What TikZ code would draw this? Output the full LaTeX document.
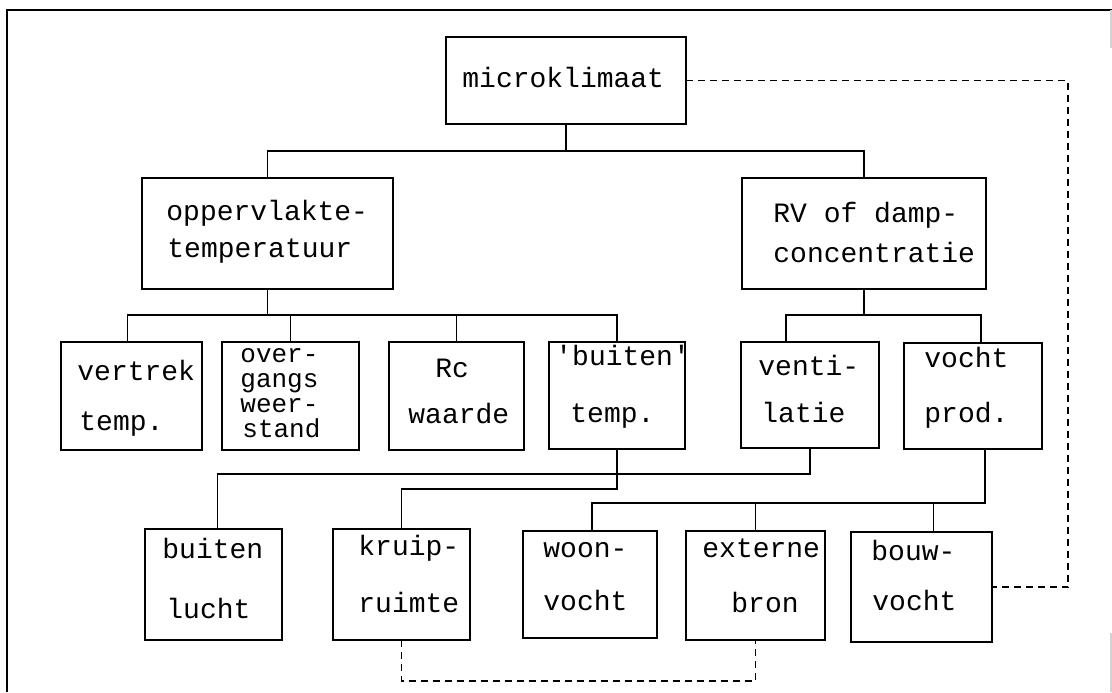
\documentclass[tikz,border=0pt]{standalone}
\usepackage{fontspec}
\setmainfont{Liberation Mono}[Ligatures=TeXOff]
% rectangle node from its corner coordinates: name, x1, y1, x2, y2
\newcommand\cornerbox[5]{%
  \node[box, minimum width={(#4-#2)*0.5pt}, minimum height={(#5-#3)*0.5pt}]
    (#1) at ({(#2+#4)/2},{(#3+#5)/2}) {};}
\begin{document}
\begin{tikzpicture}[x=0.5pt,y=-0.5pt,
  box/.style={draw, line width=1pt, inner sep=0pt, outer sep=0pt},
  lbl/.style={anchor=mid west, inner sep=0pt, font=\fontsize{14pt}{16pt}\selectfont},
  tight/.style={lbl, font=\fontsize{13pt}{14pt}\selectfont},
  wire/.style={line width=0.9pt},
  link/.style={line width=0.9pt, dash pattern=on 3.5pt off 2.5pt},
  frameline/.style={line width=1pt}]
\useasboundingbox (0,0) rectangle (1112,692);

% outer frame
\draw[frameline] (1112,10) -- (7,10) -- (7,692);
\draw[gray!35, line width=0.6pt] (1111,10) -- (1111,48);
\draw[gray!35, line width=0.6pt] (1111,633) -- (1111,692);

% boxes
\cornerbox{micro}{446}{37}{686}{124}
\cornerbox{opp}{142}{178}{393}{289}
\cornerbox{rv}{742}{178}{986}{289}
\cornerbox{vt}{61}{342}{202}{450}
\cornerbox{og}{222}{342}{359}{450}
\cornerbox{rc}{389}{342}{524}{450}
\cornerbox{bt}{549}{342}{685}{449}
\cornerbox{ve}{741}{342}{879}{448}
\cornerbox{vp}{904}{343}{1042}{449}
\cornerbox{bl}{145}{529}{282}{640}
\cornerbox{kr}{333}{529}{470}{640}
\cornerbox{wo}{523}{531}{657}{638}
\cornerbox{ex}{686}{531}{825}{640}
\cornerbox{bo}{851}{532}{992}{642}

% labels
\node[lbl] (micro-a) at (462,82) {microklimaat};
\node[lbl] (opp-a) at (166,215) {oppervlakte-};
\node[lbl] (opp-b) at (167,252) {temperatuur};
\node[lbl] (rv-a) at (773,217) {RV of damp-};
\node[lbl] (rv-b) at (773,257) {concentratie};
\node[lbl] (vt-a) at (77,375) {vertrek};
\node[lbl] (vt-b) at (79,425) {temp.};
\node[tight] (og-a) at (240,357) {over-};
\node[tight] (og-b) at (240,382) {gangs};
\node[tight] (og-c) at (240,407) {weer-};
\node[tight] (og-d) at (242,432) {stand};
\node[lbl] (rc-a) at (435,372) {Rc};
\node[lbl] (rc-b) at (408,418) {waarde};
\node[lbl] (bt-a) at (555,360) {'buiten'};
\node[lbl] (bt-b) at (570,417) {temp.};
\node[lbl] (ve-a) at (758,370) {venti-};
\node[lbl] (ve-b) at (761,417) {latie};
\node[lbl] (vp-a) at (924,362) {vocht};
\node[lbl] (vp-b) at (924,417) {prod.};
\node[lbl] (bl-a) at (162,553) {buiten};
\node[lbl] (bl-b) at (166,613) {lucht};
\node[lbl] (kr-a) at (358,550) {kruip-};
\node[lbl] (kr-b) at (358,607) {ruimte};
\node[lbl] (wo-a) at (543,552) {woon-};
\node[lbl] (wo-b) at (543,605) {vocht};
\node[lbl] (ex-a) at (702,552) {externe};
\node[lbl] (ex-b) at (731,607) {bron};
\node[lbl] (bo-a) at (871,555) {bouw-};
\node[lbl] (bo-b) at (872,605) {vocht};

% bus levels
\coordinate (lv1) at (0,151);
\coordinate (lv2) at (0,315);
\coordinate (lv3) at (0,474);
\coordinate (lv4) at (0,489);
\coordinate (lv5) at (0,503);
\coordinate (floor) at (0,681);
\coordinate (rail) at (1068,0);

% tree connectors
\draw[wire] (micro.south) -- (micro.south |- lv1);
\draw[wire] (opp.north) -- (opp.north |- lv1) -- (rv.north |- lv1) -- (rv.north);

\draw[wire] (opp.south) -- (opp.south |- lv2);
\draw[wire] ([xshift=-2pt]vt.north) -- ([xshift=-2pt]vt.north |- lv2) -- (bt.north |- lv2) -- (bt.north);
\draw[wire] (og.north) -- (og.north |- lv2);
\draw[wire] (rc.north) -- (rc.north |- lv2);

\draw[wire] (rv.south) -- (rv.south |- lv2);
\draw[wire] ([xshift=-12pt]ve.north) -- ([xshift=-12pt]ve.north |- lv2) -- ([xshift=4pt]vp.north |- lv2) -- ([xshift=4pt]vp.north);

\draw[wire] (ve.south) -- (ve.south |- lv3) -- ([xshift=2pt]bl.north |- lv3) -- ([xshift=2pt]bl.north);
\draw[wire] (bt.south) -- (bt.south |- lv4) -- (kr.north |- lv4) -- (kr.north);

\draw[wire] ([xshift=6pt]vp.south) -- ([xshift=6pt]vp.south |- lv5) -- ([xshift=1pt]wo.north |- lv5) -- ([xshift=1pt]wo.north);
\draw[wire] (ex.north) -- (ex.north |- lv5);
\draw[wire] ([xshift=6pt]bo.north) -- ([xshift=6pt]bo.north |- lv5);

% dashed links
\draw[link] (micro.east) -- (micro.east -| rail) -- (rail |- bo.east) -- (bo.east);
\draw[link] (kr.south) -- (kr.south |- floor) -- (ex.south |- floor) -- (ex.south);
\end{tikzpicture}
\end{document}
